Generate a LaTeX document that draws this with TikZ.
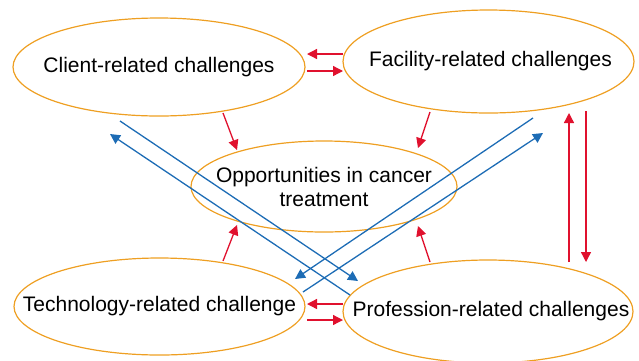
\documentclass[tikz,border=0pt]{standalone}
\usepackage{fontspec}
\setmainfont{Liberation Sans}
\usetikzlibrary{shapes.geometric,arrows.meta}
\definecolor{ringorange}{HTML}{EE9F22}
\definecolor{flowred}{HTML}{E0112E}
\definecolor{flowblue}{HTML}{1D6CB5}
\begin{document}
\begin{tikzpicture}[x=1pt,y=-1pt,
  topic/.style={ellipse,draw=ringorange,line width=1.2pt,inner sep=0pt,
    label={[topictext]center:#1}},
  topictext/.style={font=\fontsize{21}{24}\selectfont,text=black,align=center,inner sep=0pt},
  redarrow/.style={draw=flowred,line width=1.3pt,-{Triangle[length=10pt,width=10pt]}},
  bluearrow/.style={draw=flowblue,line width=1.3pt,-{Triangle[length=10pt,width=10pt]}}]
\useasboundingbox (0,0) rectangle (639,360);

% the five topics
\node[topic={Client-related challenges},minimum width=292pt,minimum height=98pt]  (client) at (159,67) {};
\node[topic={\hspace*{4pt}Facility-related challenges},minimum width=291pt,minimum height=103pt] (fac) at (488.5,61.5) {};
\node[topic={Opportunities in cancer\\treatment},minimum width=266pt,minimum height=91pt] (opp) at (324,186.5) {};
\node[topic={Technology-related challenge},minimum width=291pt,minimum height=97pt] (tech) at (159.5,306.5) {};
\node[topic={\hspace*{6pt}Profession-related challenges},minimum width=290pt,minimum height=103pt] (prof) at (488,311.5) {};

% challenges feeding the opportunities
\draw[redarrow] ([shift={(64,46)}]client.center)     -- ([shift={(-87,-36.5)}]opp.center);
\draw[redarrow] ([shift={(-58.5,50.5)}]fac.center)   -- ([shift={(94,-38.5)}]opp.center);
\draw[redarrow] ([shift={(63.5,-45.5)}]tech.center)  -- ([shift={(-87,38.5)}]opp.center);
\draw[redarrow] ([shift={(-58,-49.5)}]prof.center)   -- ([shift={(94,39.5)}]opp.center);

% pairwise exchanges
\draw[redarrow] ([shift={(-145.5,-7.5)}]fac.center)  -- ([shift={(148,-13)}]client.center);
\draw[redarrow] ([shift={(148,4)}]client.center)     -- ([shift={(-145.5,9.5)}]fac.center);
\draw[redarrow] ([shift={(81,-49.5)}]prof.center)    -- ([shift={(80.5,51.5)}]fac.center);
\draw[redarrow] ([shift={(97.5,49.5)}]fac.center)    -- ([shift={(98,-49.5)}]prof.center);
\draw[redarrow] ([shift={(-145,-7.5)}]prof.center)   -- ([shift={(147.5,-2.5)}]tech.center);
\draw[redarrow] ([shift={(147.5,13.5)}]tech.center)  -- ([shift={(-145,8.5)}]prof.center);

% diagonal exchanges
\draw[bluearrow] ([shift={(-39,54)}]client.center)   -- ([shift={(-130,-30.5)}]prof.center);
\draw[bluearrow] ([shift={(-138,-16.5)}]prof.center) -- ([shift={(-49,67)}]client.center);
\draw[bluearrow] ([shift={(44.5,56.5)}]fac.center)   -- ([shift={(135.5,-27.5)}]tech.center);
\draw[bluearrow] ([shift={(143.5,-14.5)}]tech.center)-- ([shift={(54.5,71.5)}]fac.center);
\end{tikzpicture}
\end{document}
